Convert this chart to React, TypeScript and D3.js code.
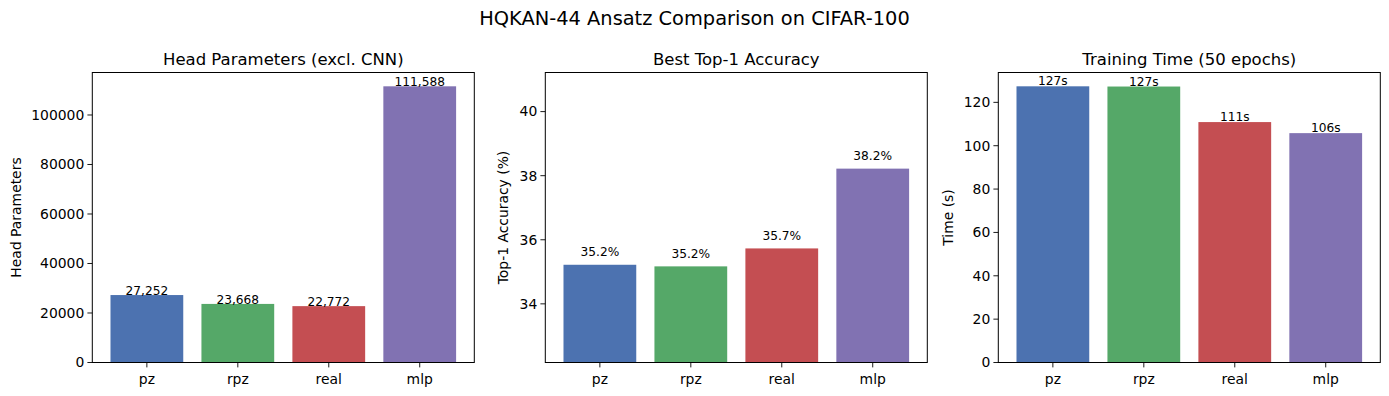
import React from "react";
import * as d3 from "d3";

const categories = ["pz", "rpz", "real", "mlp"];
const colors = ["#4C72B0", "#55A868", "#C44E52", "#8172B2"];

const paramValues = [27252, 23668, 22772, 111588];
const accValues = [35.22, 35.17, 35.73, 38.22];
const timeValues = [127.4, 127.3, 110.9, 105.8];

const paramTicks = [0, 20000, 40000, 60000, 80000, 100000];
const accTicks = [34, 36, 38, 40];
const timeTicks = [0, 20, 40, 60, 80, 100, 120];

const WIDTH = 1389;
const HEIGHT = 396;
const FONT = "DejaVu Sans, sans-serif";

type PanelProps = {
  left: number;
  title: string;
  ylabel: string;
  ylabelX: number;
  values: number[];
  ticks: number[];
  domain: [number, number];
  label: (v: number) => string;
  labelOffset: number;
};

function Panel({ left, title, ylabel, ylabelX, values, ticks, domain, label, labelOffset }: PanelProps) {
  const top = 72.5;
  const bottom = 362.5;
  const width = 382;
  const x = d3.scaleLinear().domain([-0.6, 3.6]).range([left, left + width]);
  const y = d3.scaleLinear().domain(domain).range([bottom, top]);
  const bw = x(0.8) - x(0);

  return (
    <g>
      <text x={left + width / 2} y={65} textAnchor="middle" fontSize={16.5} fontFamily={FONT} fill="#000">
        {title}
      </text>
      {values.map((v, i) => (
        <rect
          key={categories[i]}
          x={x(i) - bw / 2}
          y={y(v)}
          width={bw}
          height={y(domain[0]) - y(v)}
          fill={colors[i]}
        />
      ))}
      {values.map((v, i) => (
        <text
          key={"l" + i}
          x={x(i)}
          y={y(v) - labelOffset}
          textAnchor="middle"
          fontSize={12.2}
          fontFamily={FONT}
          fill="#000"
        >
          {label(v)}
        </text>
      ))}
      <rect x={left} y={top} width={width} height={bottom - top} fill="none" stroke="#000" strokeWidth={1} />
      {ticks.map((t) => (
        <g key={"y" + t}>
          <line x1={left - 4.9} x2={left} y1={y(t)} y2={y(t)} stroke="#000" strokeWidth={0.9} />
          <text
            x={left - 8}
            y={y(t)}
            dy="0.35em"
            textAnchor="end"
            fontSize={13.9}
            fontFamily={FONT}
            fill="#000"
          >
            {t}
          </text>
        </g>
      ))}
      {categories.map((c, i) => (
        <g key={"x" + c}>
          <line x1={x(i)} x2={x(i)} y1={bottom} y2={bottom + 4.9} stroke="#000" strokeWidth={0.9} />
          <text x={x(i)} y={bottom + 21} textAnchor="middle" fontSize={13.9} fontFamily={FONT} fill="#000">
            {c}
          </text>
        </g>
      ))}
      <text
        transform={`translate(${ylabelX},${(top + bottom) / 2}) rotate(-90)`}
        textAnchor="middle"
        fontSize={13.9}
        fontFamily={FONT}
        fill="#000"
      >
        {ylabel}
      </text>
    </g>
  );
}

export default function App() {
  const paramMax = d3.max(paramValues)! * 1.05;
  const timeMax = d3.max(timeValues)! * 1.05;
  const accDomain: [number, number] = [d3.min(accValues)! - 3, d3.max(accValues)! + 3];

  return (
    <svg width={WIDTH} height={HEIGHT} style={{ position: "absolute", left: 0, top: 0, background: "#fff" }}>
      <rect width={WIDTH} height={HEIGHT} fill="#fff" />
      <text x={694.5} y={25} textAnchor="middle" fontSize={19.4} fontFamily={FONT} fill="#000">
        HQKAN-44 Ansatz Comparison on CIFAR-100
      </text>
      <Panel
        left={92.3}
        title="Head Parameters (excl. CNN)"
        ylabel="Head Parameters"
        ylabelX={21}
        values={paramValues}
        ticks={paramTicks}
        domain={[0, paramMax]}
        label={(v) => d3.format(",")(v)}
        labelOffset={0}
      />
      <Panel
        left={545.3}
        title="Best Top-1 Accuracy"
        ylabel="Top-1 Accuracy (%)"
        ylabelX={508}
        values={accValues}
        ticks={accTicks}
        domain={accDomain}
        label={(v) => v.toFixed(1) + "%"}
        labelOffset={8.5}
      />
      <Panel
        left={998.3}
        title="Training Time (50 epochs)"
        ylabel="Time (s)"
        ylabelX={953}
        values={timeValues}
        ticks={timeTicks}
        domain={[0, timeMax]}
        label={(v) => Math.round(v) + "s"}
        labelOffset={1}
      />
    </svg>
  );
}
